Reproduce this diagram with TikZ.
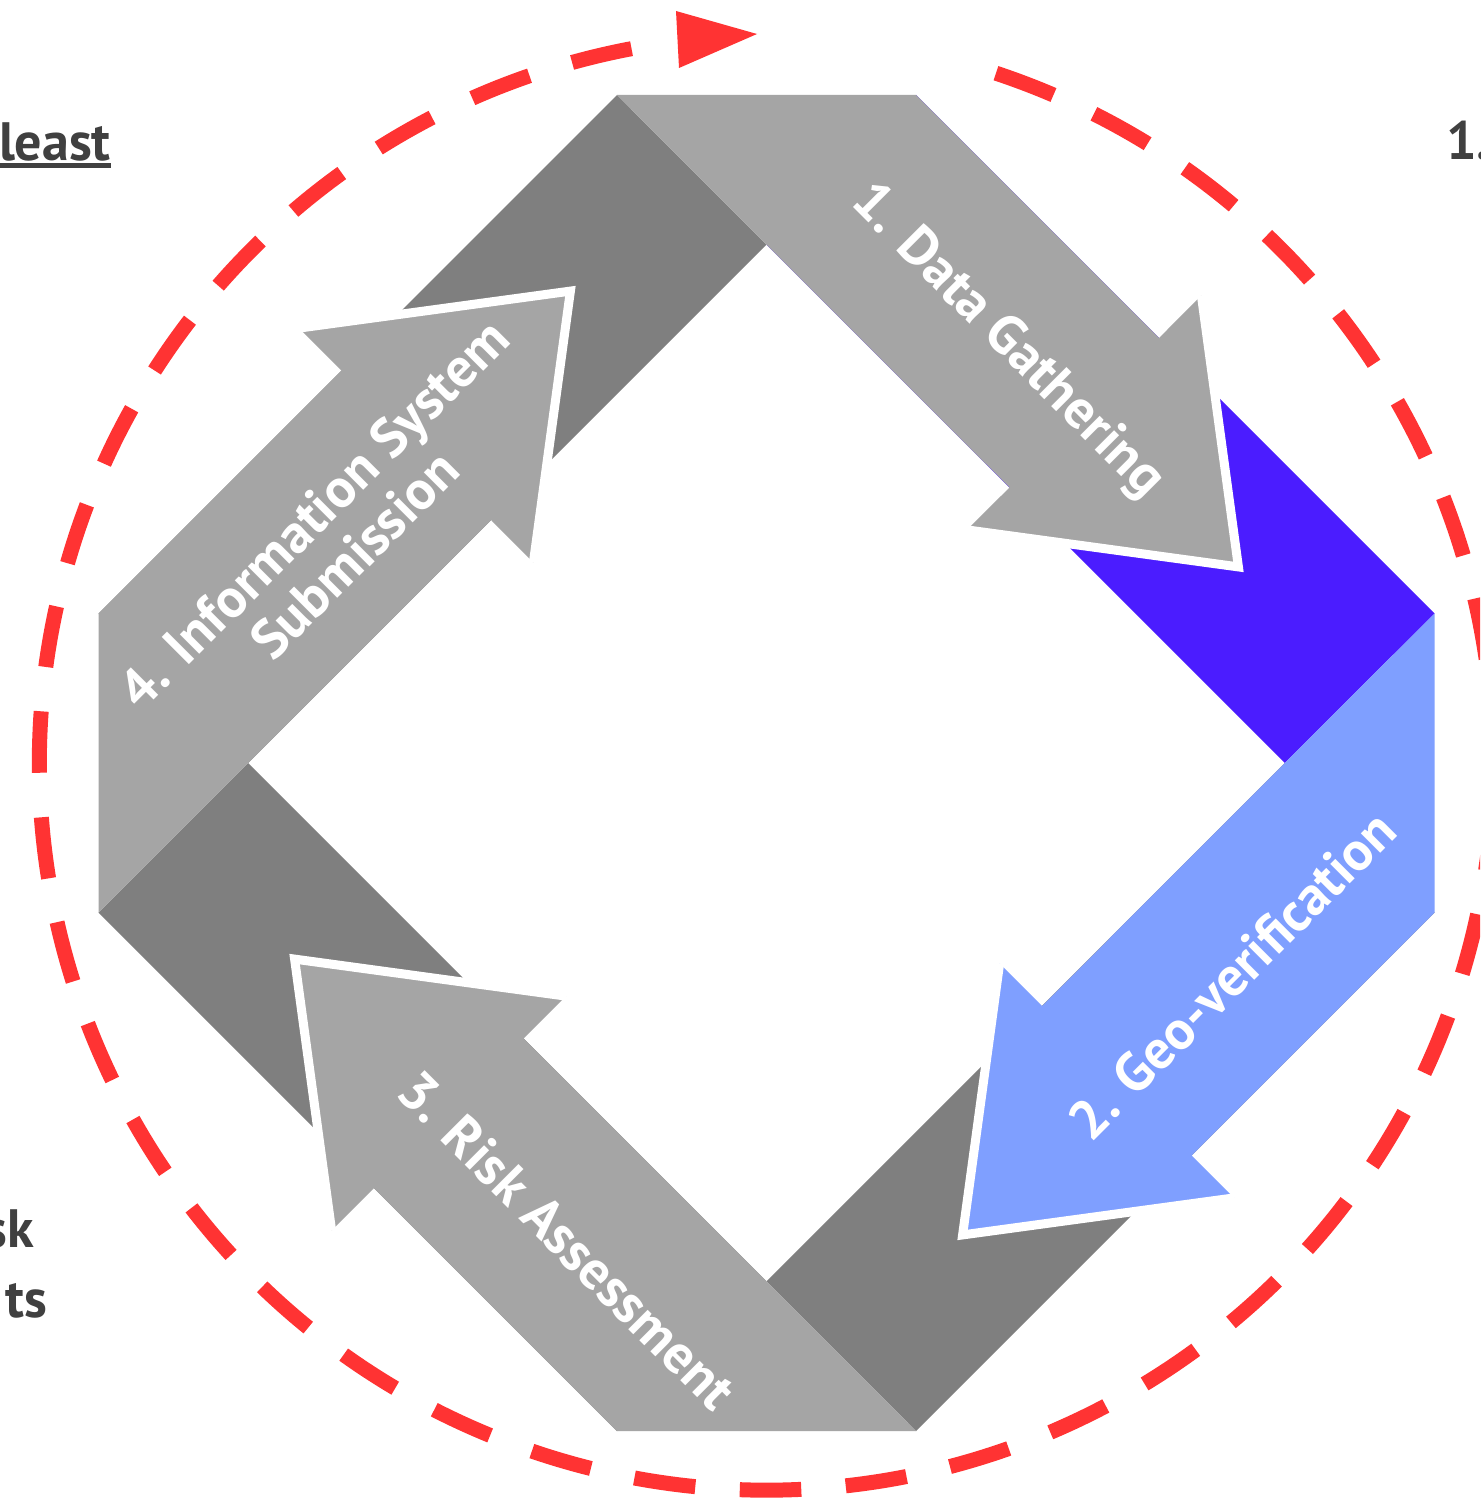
\documentclass[tikz,border=0pt]{standalone}
\usepackage{fontspec}
\setmainfont{PT Sans}
\definecolor{lgray}{HTML}{A5A5A5}
\definecolor{dgray}{HTML}{7F7F7F}
\definecolor{lblue}{HTML}{7F9FFF}
\definecolor{dblue}{HTML}{4B1CFF}
\definecolor{ringred}{HTML}{FF3333}
\definecolor{txtgray}{HTML}{404040}
\begin{document}
\begin{tikzpicture}[x=1pt,y=-1pt,
  lbl/.style={text=white, font=\bfseries\fontsize{55}{58}\selectfont, inner sep=0pt, align=center},
  side/.style={text=txtgray, font=\bfseries\fontsize{54}{60}\selectfont, inner sep=0pt}]
\clip (0,0) rectangle (1480,1501);
\fill[white] (0,0) rectangle (1480,1501);
% dark ribbon bands
\foreach \k/\c in {0/dblue,1/dgray,2/dgray,3/dgray}{
  \begin{scope}[shift={(766.5,763)}, rotate=-90*\k]
    \fill[\c] (149.5,-668) -- (668,-149.5) -- (518.4,0) -- (0,-518.4) -- cycle;
  \end{scope}
}
% arrows
\foreach \k/\c in {0/lgray,1/lblue,2/lgray,3/lgray}{
  \begin{scope}[shift={(766.5,763)}, rotate=-90*\k]
    \fill[\c] (-149.5,-668) -- (149.5,-668) -- (392.5,-425.0) -- (434.9,-467.5)
      -- (471.9,-196.1) -- (200.5,-233.1) -- (243.0,-275.5) -- (0,-518.4) -- cycle;
    \draw[white, line width=9pt, line join=miter] (434.9,-467.5) -- (471.9,-196.1) -- (200.5,-233.1);
  \end{scope}
}
% labels
\node[lbl, rotate=-45] (l1) at (1007,342) {1. Data Gathering};
\node[lbl, rotate=45] (l2) at (1232,975) {2. Geo-verification};
\node[lbl, rotate=-45] (l3) at (567,1240) {3. Risk Assessment};
\node[lbl, rotate=45] (l4) at (334,534) {4. Information System\\Submission};
% dashed ring
\draw[ringred, line width=15pt, dash pattern=on 61.5pt off 44.6pt]
  (766.5,763) ++(-71.6:727) arc[start angle=-71.6, end angle=259.3, radius=727];
\fill[ringred] (676,11) -- (757,34) -- (679,68) -- cycle;
% side texts
\node[side, anchor=base east] (least) at (111,160) {least};
\fill[txtgray] (0,163) rectangle (111,168);
\node[side, anchor=base west] (one) at (1446,159) {1.};
\node[side, anchor=base east] (sk) at (34,1247) {sk};
\node[side, anchor=base east] (ts) at (47,1317) {ts};
\end{tikzpicture}
\end{document}
